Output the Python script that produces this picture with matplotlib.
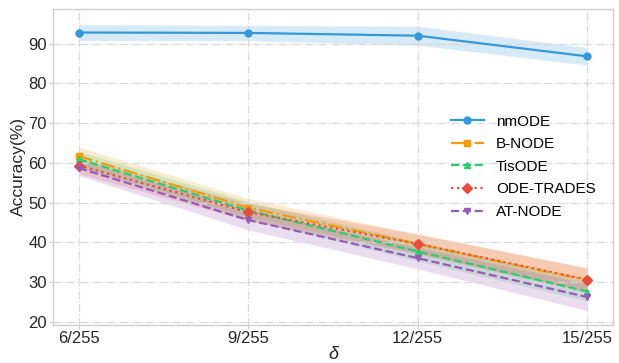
import numpy as np
import matplotlib.pyplot as plt

plt.rcParams['font.family'] = ['Liberation Sans', 'DejaVu Sans']

# perturbation budgets on the x axis
deltas = ['6/255', '9/255', '12/255', '15/255']

# mean accuracy (%) per method
nmode = [92.8, 92.7, 92.0, 86.8]
bnode = [61.7, 48.7, 39.6, 30.4]
tisode = [60.9, 48.0, 37.7, 27.6]
ode_trades = [59.3, 47.6, 39.6, 30.6]
at_node = [58.7, 45.6, 36.0, 26.2]

# spread (+/-) used for the shaded bands
nmode_std = [2.0, 1.9, 2.4, 2.2]
bnode_std = [2.3, 2.3, 2.4, 3.0]
tisode_std = [2.0, 2.2, 2.4, 2.4]
ode_trades_std = [2.0, 2.2, 2.5, 3.0]
at_node_std = [1.9, 2.5, 2.7, 3.4]

series = [
    ('nmODE', nmode, nmode_std, '#3498db', '-', 'o'),
    ('B-NODE', bnode, bnode_std, '#f39c12', '-.', 's'),
    ('TisODE', tisode, tisode_std, '#2ecc71', '--', '^'),
    ('ODE-TRADES', ode_trades, ode_trades_std, '#e74c3c', ':', 'D'),
    ('AT-NODE', at_node, at_node_std, '#9b59b6', '--', 'v'),
]

fig, ax = plt.subplots(figsize=(6.19, 3.63), dpi=100)
x = np.arange(len(deltas))

for label, vals, err, color, ls, mk in series:
    vals = np.array(vals)
    err = np.array(err)
    ax.plot(x, vals, color=color, linestyle=ls, marker=mk, markersize=5,
            linewidth=1.6, label=label)
    ax.fill_between(x, vals - err, vals + err, color=color, alpha=0.2, linewidth=0)

ax.set_xticks(x)
ax.set_xticklabels(deltas)
ax.set_ylim(19.3, 98.7)
ax.set_yticks([20, 30, 40, 50, 60, 70, 80, 90])
ax.tick_params(length=3, width=0.8, color='#cccccc', labelsize=12,
               labelcolor='#262626', pad=1.5)
ax.set_ylabel('Accuracy(%)', fontsize=12.5, color='#262626', labelpad=2)
ax.set_xlabel('δ', fontsize=13, style='italic', color='#262626', labelpad=0)

ax.grid(True, linestyle='-.', color='#d9d9d9', linewidth=0.9)
for sp in ax.spines.values():
    sp.set_color('#d0d0d0')
    sp.set_linewidth(1.0)

ax.legend(loc='center left', bbox_to_anchor=(0.70, 0.50), frameon=False,
          fontsize=11, handlelength=2.15, borderaxespad=0, labelspacing=0.56)

fig.subplots_adjust(left=0.086, right=0.99, top=0.975, bottom=0.106)
fig.savefig('out.png', dpi=100)
